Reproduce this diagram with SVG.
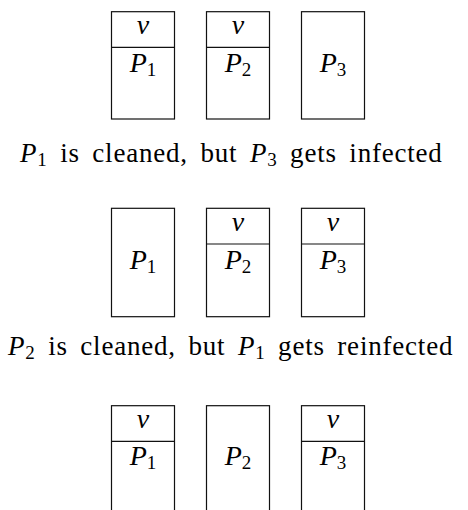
<svg xmlns="http://www.w3.org/2000/svg" width="468" height="510" viewBox="0 0 468 510">
<style>
text{font-family:"Liberation Serif",serif;fill:#000}
.box{fill:#fff;stroke:#111;stroke-width:1.2}
.div{stroke:#111;stroke-width:1.2}
.lbl{font-size:28px;text-anchor:middle}
.it{font-style:italic}
.sub{font-size:19px}
.cap{font-size:27px;letter-spacing:0.8px;word-spacing:5px}
.cs{font-size:19px}
</style>
<rect width="468" height="510" fill="#fff"/>
<g id="row1">
  <g id="r1p1"><rect class="box" x="111.5" y="11.7" width="63" height="107.3"/><line class="div" x1="111.5" y1="47.3" x2="174.5" y2="47.3"/>
    <text class="lbl it" x="143" y="34">v</text><text class="lbl" x="143" y="72"><tspan class="it">P</tspan><tspan class="sub" dy="4">1</tspan></text></g>
  <g id="r1p2"><rect class="box" x="206.5" y="11.7" width="63" height="107.3"/><line class="div" x1="206.5" y1="47.3" x2="269.5" y2="47.3"/>
    <text class="lbl it" x="238" y="34">v</text><text class="lbl" x="238" y="72"><tspan class="it">P</tspan><tspan class="sub" dy="4">2</tspan></text></g>
  <g id="r1p3"><rect class="box" x="301.5" y="11.7" width="63" height="107.3"/>
    <text class="lbl" x="333" y="72"><tspan class="it">P</tspan><tspan class="sub" dy="4">3</tspan></text></g>
</g>
<text id="cap1" class="cap" x="20" y="161.5"><tspan class="it">P</tspan><tspan class="cs" dy="4">1</tspan><tspan dy="-4"> is cleaned, but </tspan><tspan class="it">P</tspan><tspan class="cs" dy="4">3</tspan><tspan dy="-4"> gets infected</tspan></text>
<g id="row2">
  <g id="r2p1"><rect class="box" x="111.5" y="208.3" width="63" height="108.4"/>
    <text class="lbl" x="143" y="268.5"><tspan class="it">P</tspan><tspan class="sub" dy="4">1</tspan></text></g>
  <g id="r2p2"><rect class="box" x="206.5" y="208.3" width="63" height="108.4"/><line class="div" x1="206.5" y1="244" x2="269.5" y2="244"/>
    <text class="lbl it" x="238" y="230.5">v</text><text class="lbl" x="238" y="268.5"><tspan class="it">P</tspan><tspan class="sub" dy="4">2</tspan></text></g>
  <g id="r2p3"><rect class="box" x="301.5" y="208.3" width="63" height="108.4"/><line class="div" x1="301.5" y1="244" x2="364.5" y2="244"/>
    <text class="lbl it" x="333" y="230.5">v</text><text class="lbl" x="333" y="268.5"><tspan class="it">P</tspan><tspan class="sub" dy="4">3</tspan></text></g>
</g>
<text id="cap2" class="cap" x="8" y="355"><tspan class="it">P</tspan><tspan class="cs" dy="4">2</tspan><tspan dy="-4"> is cleaned, but </tspan><tspan class="it">P</tspan><tspan class="cs" dy="4">1</tspan><tspan dy="-4"> gets reinfected</tspan></text>
<g id="row3">
  <g id="r3p1"><rect class="box" x="111.5" y="405.7" width="63" height="120"/><line class="div" x1="111.5" y1="441.3" x2="174.5" y2="441.3"/>
    <text class="lbl it" x="143" y="428">v</text><text class="lbl" x="143" y="465"><tspan class="it">P</tspan><tspan class="sub" dy="4">1</tspan></text></g>
  <g id="r3p2"><rect class="box" x="206.5" y="405.7" width="63" height="120"/>
    <text class="lbl" x="238" y="465"><tspan class="it">P</tspan><tspan class="sub" dy="4">2</tspan></text></g>
  <g id="r3p3"><rect class="box" x="301.5" y="405.7" width="63" height="120"/><line class="div" x1="301.5" y1="441.3" x2="364.5" y2="441.3"/>
    <text class="lbl it" x="333" y="428">v</text><text class="lbl" x="333" y="465"><tspan class="it">P</tspan><tspan class="sub" dy="4">3</tspan></text></g>
</g>
<g id="connectors"/>
</svg>
